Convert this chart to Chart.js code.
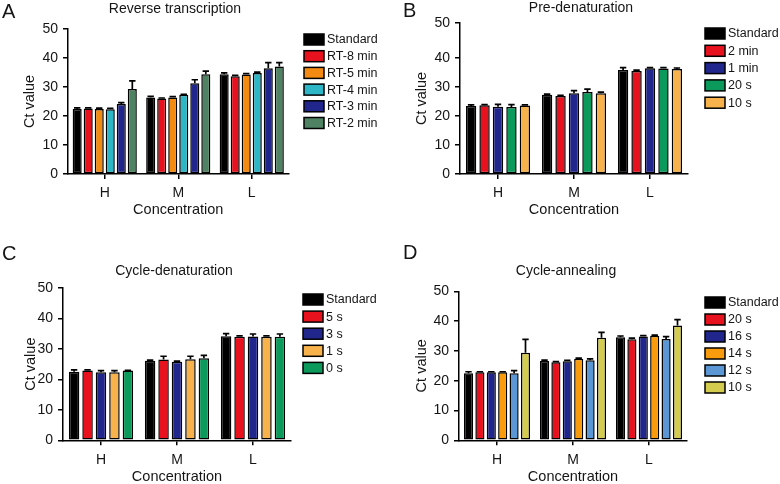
<!DOCTYPE html>
<html>
<head>
<meta charset="utf-8">
<script src="https://cdn.jsdelivr.net/npm/chart.js@4.4.0/dist/chart.umd.min.js"></script>
<style>
body { margin: 0; background: #fff; }
#wrap { position: relative; width: 780px; height: 484px; overflow: hidden; }
.panel { position: absolute; width: 390px; height: 242px; }
</style>
</head>
<body>
<div id="wrap">
  <div class="panel" style="left:0;top:0"><canvas id="chartA" width="390" height="242"></canvas></div>
  <div class="panel" style="left:390px;top:0"><canvas id="chartB" width="390" height="242"></canvas></div>
  <div class="panel" style="left:0;top:242px"><canvas id="chartC" width="390" height="242"></canvas></div>
  <div class="panel" style="left:390px;top:242px"><canvas id="chartD" width="390" height="242"></canvas></div>
</div>
<script>
var concentrations = ['H', 'M', 'L'];
var yTickLabels = ['0', '10', '20', '30', '40', '50'];
var yTickValues = [0, 10, 20, 30, 40, 50];
// panel B's top tick sits higher than the others in the original figure
var yTickValuesB = [0, 10, 20, 30, 40, 52];

// A: reverse transcription
var rtNames = ['Standard', 'RT-8 min', 'RT-5 min', 'RT-4 min', 'RT-3 min', 'RT-2 min'];
var rtValues = [
    [22.4, 26.4, 34.4],
    [22.6, 26.0, 33.7],
    [22.4, 26.4, 34.3],
    [22.3, 27.3, 34.8],
    [24.1, 31.3, 36.5],
    [29.3, 34.4, 37.1]
];
var rtErrors = [
    [0.4, 0.4, 0.5],
    [0.2, 0.2, 0.3],
    [0.3, 0.3, 0.3],
    [0.3, 0.2, 0.3],
    [0.5, 1.2, 1.9],
    [2.8, 1.1, 1.3]
];

// B: pre-denaturation
var preNames = ['Standard', '2 min', '1 min', '20 s', '10 s'];
var preValues = [
    [23.4, 27.3, 35.8],
    [23.7, 26.9, 35.5],
    [23.2, 27.8, 36.4],
    [23.1, 28.2, 36.3],
    [23.6, 27.8, 36.2]
];
var preErrors = [
    [0.4, 0.2, 0.8],
    [0.2, 0.2, 0.3],
    [0.8, 0.9, 0.2],
    [0.8, 1.0, 0.3],
    [0.2, 0.4, 0.3]
];

// C: cycle-denaturation
var denNames = ['Standard', '5 s', '3 s', '1 s', '0 s'];
var denValues = [
    [22.5, 26.1, 34.2],
    [22.9, 26.5, 34.0],
    [22.3, 25.8, 34.1],
    [22.3, 26.6, 34.0],
    [22.9, 26.9, 34.0]
];
var denErrors = [
    [0.6, 0.2, 0.8],
    [0.2, 1.1, 0.3],
    [0.6, 0.2, 0.8],
    [0.6, 1.0, 0.3],
    [0.1, 1.0, 0.9]
];

// D: cycle-annealing
var annNames = ['Standard', '20 s', '16 s', '14 s', '12 s', '10 s'];
var annValues = [
    [22.5, 26.6, 34.6],
    [22.8, 26.2, 33.9],
    [22.8, 26.5, 34.8],
    [22.8, 27.4, 35.1],
    [22.5, 26.9, 34.0],
    [29.4, 34.4, 38.5]
];
var annErrors = [
    [0.5, 0.3, 0.4],
    [0.2, 0.2, 0.4],
    [0.2, 0.3, 0.3],
    [0.2, 0.2, 0.2],
    [0.9, 0.4, 0.8],
    [4.5, 1.8, 2.0]
];

var fontFamily = '"Liberation Sans", Arial, Helvetica, sans-serif';
var textColor = '#151515';

var errorBars = {
    id: 'errorBars',
    afterDatasetsDraw: function (chart) {
        var ctx = chart.ctx;
        var yScale = chart.scales.y;
        ctx.save();
        ctx.strokeStyle = '#000';
        ctx.lineWidth = 1.7;
        chart.data.datasets.forEach(function (ds, i) {
            var meta = chart.getDatasetMeta(i);
            meta.data.forEach(function (bar, j) {
                var top = yScale.getPixelForValue(ds.data[j] + ds.errors[j]);
                ctx.beginPath();
                ctx.moveTo(bar.x, bar.y);
                ctx.lineTo(bar.x, top);
                ctx.moveTo(bar.x - 3.2, top);
                ctx.lineTo(bar.x + 3.2, top);
                ctx.stroke();
            });
        });
        ctx.restore();
    }
};

// panel letter, title and legend drawn on the canvas
function decoPlugin(p) {
    return {
        id: 'deco',
        afterDraw: function (chart) {
            var ctx = chart.ctx;
            ctx.save();
            ctx.fillStyle = textColor;
            ctx.font = '20px ' + fontFamily;
            ctx.textAlign = 'left';
            ctx.textBaseline = 'alphabetic';
            ctx.fillText(p.letter, p.letterX, p.letterY);

            ctx.font = '14px ' + fontFamily;
            ctx.textAlign = 'center';
            ctx.textBaseline = 'middle';
            ctx.fillText(p.title, p.titleX, p.titleY);

            ctx.font = '12.5px ' + fontFamily;
            ctx.textAlign = 'left';
            chart.data.datasets.forEach(function (ds, i) {
                var y = p.legY + i * p.legStep;
                ctx.fillStyle = ds.backgroundColor;
                ctx.fillRect(p.legX, y - 5.5, 20, 11);
                ctx.strokeStyle = '#000';
                ctx.lineWidth = 1.5;
                ctx.strokeRect(p.legX, y - 5.5, 20, 11);
                ctx.fillStyle = textColor;
                ctx.fillText(ds.label, p.legX + 23, y + 0.5);
            });
            ctx.restore();
        }
    };
}

function makePanel(id, names, values, errors, colors, p) {
    var datasets = names.map(function (name, i) {
        return {
            label: name,
            data: values[i],
            errors: errors[i],
            backgroundColor: colors[i],
            borderColor: '#000',
            borderWidth: 1.5,
            borderSkipped: false,
            categoryPercentage: p.catPct,
            barPercentage: p.barPct
        };
    });
    var ticksList = p.tickValues;
    return new Chart(document.getElementById(id), {
        type: 'bar',
        data: { labels: concentrations, datasets: datasets },
        options: {
            responsive: false,
            animation: false,
            layout: { padding: { left: 0, top: p.top, right: p.right, bottom: 0 } },
            plugins: { legend: { display: false }, tooltip: { enabled: false } },
            scales: {
                x: {
                    grid: { display: true, drawOnChartArea: false, offset: false, tickLength: 5, color: '#000', lineWidth: 1.5 },
                    border: { display: true, color: '#000', width: 1.5 },
                    ticks: { color: textColor, font: { family: fontFamily, size: 14 }, padding: 6 },
                    title: {
                        display: true, text: 'Concentration', color: textColor,
                        font: { family: fontFamily, size: 14.5, lineHeight: 1 },
                        padding: { top: 0, bottom: p.xTitlePad }
                    },
                    afterFit: function (s) { s.height = p.xHeight; }
                },
                y: {
                    min: 0,
                    max: ticksList[ticksList.length - 1],
                    afterBuildTicks: function (s) {
                        s.ticks = ticksList.map(function (v) { return { value: v }; });
                    },
                    grid: { display: true, drawOnChartArea: false, tickLength: 5, color: '#000', lineWidth: 1.5 },
                    border: { display: true, color: '#000', width: 1.5 },
                    ticks: {
                        color: textColor, font: { family: fontFamily, size: 14 }, padding: 5,
                        callback: function (v, i) { return yTickLabels[i]; }
                    },
                    title: {
                        display: true, text: 'Ct value', color: textColor,
                        font: { family: fontFamily, size: 14.5, lineHeight: 1 },
                        padding: { top: p.yTitlePad, bottom: 0 }
                    },
                    afterFit: function (s) { s.width = p.left; }
                }
            }
        },
        plugins: [errorBars, decoPlugin(p)]
    });
}

makePanel('chartA', rtNames, rtValues, rtErrors,
    ['#000000', '#e8121e', '#f38a12', '#2cb6c6', '#21268c', '#4e8263'],
    { letter: 'A', letterX: 2, letterY: 18, title: 'Reverse transcription', titleX: 175, titleY: 9,
      legX: 304, legY: 39.5, legStep: 16.7, left: 68, right: 101.5, top: 29, xHeight: 68,
      xTitlePad: 25, yTitlePad: 23, catPct: 0.9, barPct: 0.82, tickValues: yTickValues });

makePanel('chartB', preNames, preValues, preErrors,
    ['#000000', '#e8121e', '#21268c', '#0c9a5c', '#f7b24c'],
    { letter: 'B', letterX: 13, letterY: 17, title: 'Pre-denaturation', titleX: 191, titleY: 8.5,
      legX: 315, legY: 33.5, legStep: 17.3, left: 70, right: 92, top: 23, xHeight: 68,
      xTitlePad: 25, yTitlePad: 25, catPct: 0.885, barPct: 0.77, tickValues: yTickValuesB });

makePanel('chartC', denNames, denValues, denErrors,
    ['#000000', '#e8121e', '#21268c', '#f7b24c', '#0c9a5c'],
    { letter: 'C', letterX: 2, letterY: 18, title: 'Cycle-denaturation', titleX: 174, titleY: 29.5,
      legX: 303, legY: 57.5, legStep: 17.1, left: 63, right: 99, top: 46, xHeight: 43.7,
      xTitlePad: 0, yTitlePad: 24, catPct: 0.885, barPct: 0.78, tickValues: yTickValues });

makePanel('chartD', annNames, annValues, annErrors,
    ['#000000', '#e8121e', '#21268c', '#f89c0e', '#5b97d4', '#d4cc4e'],
    { letter: 'D', letterX: 13, letterY: 17, title: 'Cycle-annealing', titleX: 176, titleY: 29.5,
      legX: 315, legY: 60.5, legStep: 17, left: 69, right: 93, top: 49.3, xHeight: 43.7,
      xTitlePad: 0, yTitlePad: 25, catPct: 0.9, barPct: 0.8, tickValues: yTickValues });
</script>
</body>
</html>
